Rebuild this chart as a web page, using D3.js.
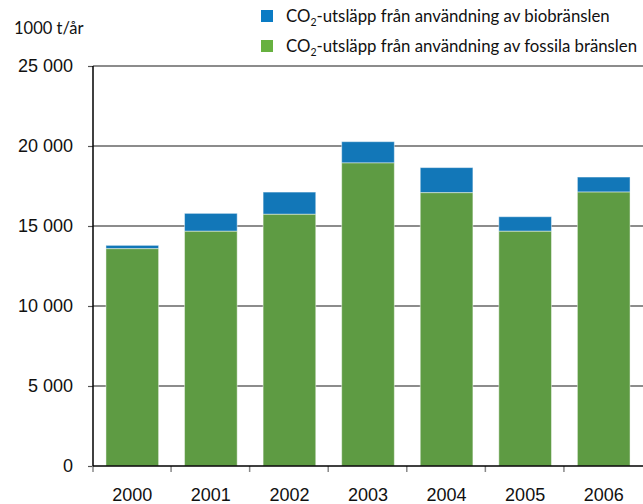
<!DOCTYPE html>
<html>
<head>
<meta charset="utf-8">
<script src="https://cdn.jsdelivr.net/npm/d3@7"></script>
<style>
  html, body { margin: 0; padding: 0; background: #fff; }
  svg { display: block; }
</style>
</head>
<body>
<svg id="chart" width="643" height="504"></svg>
<script>
// Annual CO2 emissions, 1000 tonnes per year
const years = ["2000", "2001", "2002", "2003", "2004", "2005", "2006"];
const fossil = [13580, 14670, 15730, 18940, 17080, 14670, 17120];
const bio = [210, 1120, 1390, 1330, 1570, 910, 940];
const yTicks = [0, 5000, 10000, 15000, 20000, 25000];
const seriesNames = ["CO2-utsläpp från användning av biobränslen", "CO2-utsläpp från användning av fossila bränslen"];
const seriesColors = ["#1277b8", "#5e9b43"];
const unitLabel = "1000 t/år";

const svg = d3.select("#chart");
const margin = { left: 93, right: 0, top: 66, bottom: 38 };
const W = 643, H = 504;

const x = d3.scaleBand().domain(years).range([margin.left, W - margin.right]).paddingInner(0.33).paddingOuter(0.165);
const y = d3.scaleLinear().domain([0, 25000]).range([H - margin.bottom, margin.top]);

const fmt = v => d3.format(",")(v).replace(/,/g, " ");

// horizontal gridlines and left tick marks
const yAxis = d3.axisLeft(y).tickValues(yTicks).tickSize(5).tickPadding(15).tickFormat(fmt);
const gy = svg.append("g").attr("transform", `translate(${margin.left},0)`).call(yAxis);
gy.select(".domain").remove();
gy.selectAll(".tick line").attr("stroke", "#555").attr("stroke-width", 1.2);
gy.selectAll(".tick text").attr("font-family", "Liberation Sans, Arial, sans-serif").attr("font-size", 18).attr("fill", "#111");

svg.append("g").selectAll("line").data(yTicks.filter(d => d > 0)).join("line")
  .attr("x1", margin.left).attr("x2", W)
  .attr("y1", d => y(d)).attr("y2", d => y(d))
  .attr("stroke", "#666").attr("stroke-width", 1.5);

// stacked bars
const rows = years.map((yr, i) => ({ year: yr, fossil: fossil[i], bio: bio[i] }));
const stack = d3.stack().keys(["bio", "fossil"]).order(d3.stackOrderReverse)(rows);
svg.append("g").selectAll("g").data(stack).join("g")
  .attr("fill", (d, i) => seriesColors[i])
  .selectAll("rect").data(d => d).join("rect")
  .attr("x", d => x(d.data.year))
  .attr("width", x.bandwidth())
  .attr("y", d => y(d[1]))
  .attr("height", d => y(d[0]) - y(d[1]))
  .attr("stroke", "rgba(255,255,255,0.45)")
  .attr("stroke-width", 1);

// bottom axis with ticks between categories
const boundaries = years.map(yr => x(yr) - x.step() * x.paddingInner() / 2 - 0.5);
svg.append("g").selectAll("line").data(boundaries).join("line")
  .attr("x1", d => Math.max(d, margin.left)).attr("x2", d => Math.max(d, margin.left))
  .attr("y1", y(0)).attr("y2", y(0) + 6)
  .attr("stroke", "#888").attr("stroke-width", 1.5);

svg.append("line").attr("x1", margin.left).attr("x2", W).attr("y1", y(0)).attr("y2", y(0))
  .attr("stroke", "#000").attr("stroke-width", 1.5);
svg.append("line").attr("x1", margin.left).attr("x2", margin.left).attr("y1", y(25000)).attr("y2", y(0))
  .attr("stroke", "#000").attr("stroke-width", 1.5);

svg.append("g").selectAll("text").data(years).join("text")
  .attr("x", d => x(d) + x.bandwidth() / 2)
  .attr("y", 501)
  .attr("text-anchor", "middle")
  .attr("font-family", "Liberation Sans, Arial, sans-serif")
  .attr("font-size", 18)
  .attr("fill", "#111")
  .text(d => d);

// unit label
svg.append("text").attr("x", 14).attr("y", 34)
  .attr("font-family", "Lato, sans-serif").attr("font-size", 16.5).attr("fill", "#111")
  .text(unitLabel);

// legend
const legend = svg.append("g");
seriesNames.forEach((name, i) => {
  const yy = 10 + i * 30;
  legend.append("rect").attr("x", 261).attr("y", yy).attr("width", 12).attr("height", 12)
    .attr("fill", i === 0 ? "#0a7bc4" : "#67b140");
  const t = legend.append("text").attr("x", 286).attr("y", yy + 12)
    .attr("font-family", "Lato, sans-serif").attr("font-size", 16.8).attr("fill", "#111");
  const parts = name.split("CO2");
  t.append("tspan").text("CO");
  t.append("tspan").attr("font-size", 10.5).attr("dy", 4).text("2");
  t.append("tspan").attr("dy", -4).text(parts[1]);
});
</script>
</body>
</html>
